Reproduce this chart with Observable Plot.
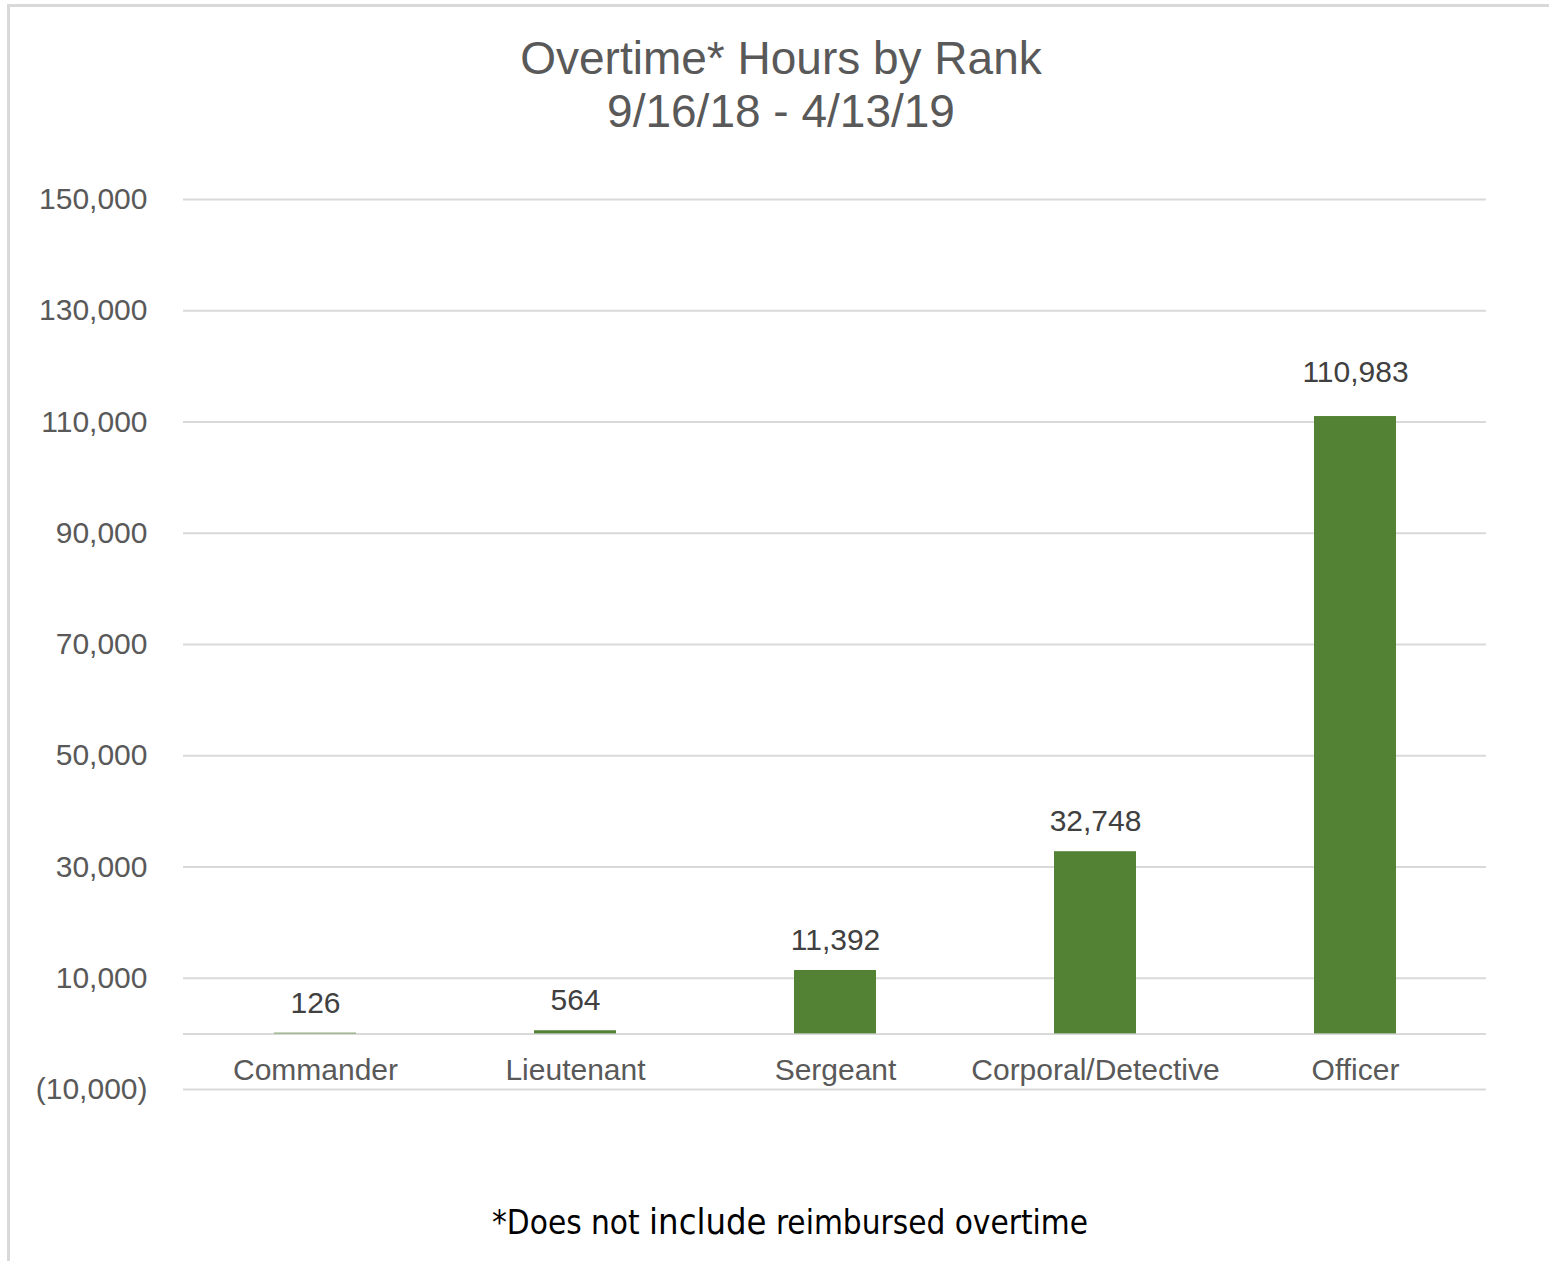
<!DOCTYPE html>
<html>
<head>
<meta charset="utf-8">
<script src="https://cdn.jsdelivr.net/npm/d3@7"></script>
<script src="https://cdn.jsdelivr.net/npm/@observablehq/plot@0.6"></script>
<style>
  body { margin: 0; background: #fff; }
  #frame { position: relative; width: 1549px; height: 1261px; overflow: hidden; background: #fff;
           font-family: "Liberation Sans", Arial, sans-serif; }
  #borderTop { position: absolute; left: 7px; top: 4px; right: 0; height: 3px; background: #d9d9d9; }
  #borderLeft { position: absolute; left: 7px; top: 4px; width: 3px; bottom: 0; background: #d9d9d9; }
  #title { position: absolute; left: 0; top: 32px; width: 1562px; text-align: center; color: #595959;
           font-size: 46px; line-height: 53px; }
  #chart { position: absolute; left: 0; top: 160px; }
  #note { position: absolute; left: 0; top: 1202px; width: 1580px; text-align: center; color: #000;
          font-family: "Liberation Sans Narrow", "DejaVu Sans Condensed", sans-serif; font-size: 33px; line-height: 40px; }
  #note .big { font-size: 36px; }
</style>
</head>
<body>
<div id="frame">
  <div id="borderTop"></div>
  <div id="borderLeft"></div>
  <div id="title"></div>
  <div id="chart"></div>
  <div id="note"></div>
</div>
<script>
// ---- data ----
const titleLines = ["Overtime* Hours by Rank", "9/16/18 - 4/13/19"];
const ranks = ["Commander", "Lieutenant", "Sergeant", "Corporal/Detective", "Officer"];
const hours = [126, 564, 11392, 32748, 110983];
const yTicks = [-10000, 10000, 30000, 50000, 70000, 90000, 110000, 130000, 150000];
const yDomain = [-10000, 150000];
const noteParts = ["*Does not ", "include", " reimbursed overtime"];

const data = ranks.map((r, i) => ({rank: r, hours: hours[i]}));
const num = d3.format(",");
const fmt = d => d < 0 ? `(${num(-d)})` : num(d);
const maxHours = d3.max(hours);

document.getElementById("title").innerHTML = titleLines.join("<br>");
const note = document.getElementById("note");
note.append(noteParts[0]);
const big = document.createElement("span"); big.className = "big"; big.textContent = noteParts[1];
note.append(big);
note.append(noteParts[2]);

const green = "#548235";
const grid = "#d9d9d9";
const font = "Liberation Sans, Arial, sans-serif";

const chart = Plot.plot({
  width: 1549,
  height: 960,
  marginTop: 39,
  marginBottom: 31,
  marginLeft: 183,
  marginRight: 63,
  style: { fontFamily: font, background: "transparent" },
  x: { type: "band", domain: ranks, paddingInner: 0.685, paddingOuter: 0.3425, axis: null },
  y: { domain: yDomain, axis: null },
  marks: [
    Plot.gridY(yTicks, { stroke: grid, strokeOpacity: 1, strokeWidth: 2 }),
    Plot.ruleY([0], { stroke: grid, strokeOpacity: 1, strokeWidth: 2 }),
    Plot.axisY(yTicks, { tickSize: 0, tickPadding: 36, tickFormat: fmt, fontSize: 30, fill: "#595959", label: null }),
    Plot.barY(data, { x: "rank", y: "hours", fill: green }),
    Plot.text(data.filter(d => d.hours !== maxHours), { x: "rank", y: "hours", text: d => fmt(d.hours), dy: -30, fontSize: 30, fill: "#404040" }),
    Plot.text(data.filter(d => d.hours === maxHours), { x: "rank", y: "hours", text: d => fmt(d.hours), dy: -44, fontSize: 30, fill: "#404040" }),
    Plot.text(ranks, { x: d => d, y: () => 0, text: d => d, dy: 37, fontSize: 30, fill: "#595959" })
  ]
});
document.getElementById("chart").append(chart);
</script>
</body>
</html>
